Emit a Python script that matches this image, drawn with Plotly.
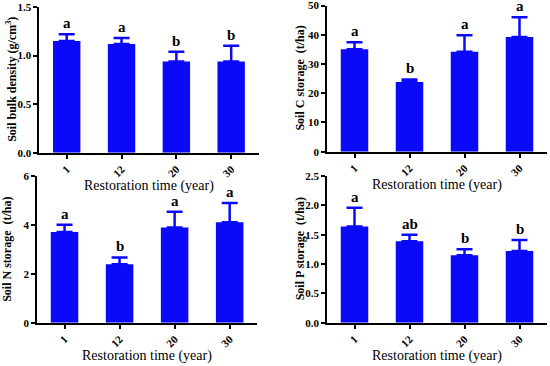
import plotly.graph_objects as go

categories = ["1", "12", "20", "30"]

bulk_density = [1.15, 1.12, 0.94, 0.94]
bulk_density_err = [0.07, 0.06, 0.10, 0.16]
bulk_density_letters = ["a", "a", "b", "b"]

c_storage = [35.0, 23.8, 34.2, 39.2]
c_storage_err = [2.4, 0.9, 5.6, 6.8]
c_storage_letters = ["a", "b", "a", "a"]

n_storage = [3.71, 2.39, 3.89, 4.11]
n_storage_err = [0.30, 0.28, 0.65, 0.79]
n_storage_letters = ["a", "b", "a", "a"]

p_storage = [1.64, 1.39, 1.15, 1.22]
p_storage_err = [0.32, 0.11, 0.10, 0.19]
p_storage_letters = ["a", "ab", "b", "b"]

W, H = 550, 366
BLUE = "#0A0AF8"
FONT = "Liberation Serif, Times New Roman, serif"

panels = [
    dict(vals=bulk_density, err=bulk_density_err, letters=bulk_density_letters,
         ytitle="Soil bulk density (g/cm<sup>3</sup>)", yrange=[0, 1.5], dtick=0.5, fmt=".1f",
         x=(39.3, 258.6), y=(7, 152.7), ytx=12),
    dict(vals=c_storage, err=c_storage_err, letters=c_storage_letters,
         ytitle="Soil C storage&nbsp;&nbsp;(t/ha)", yrange=[0, 50], dtick=10, fmt="d",
         x=(327, 547), y=(5.5, 151.7), ytx=300),
    dict(vals=n_storage, err=n_storage_err, letters=n_storage_letters,
         ytitle="Soil N storage&nbsp;&nbsp;(t/ha)", yrange=[0, 6], dtick=2, fmt="d",
         x=(37, 257.2), y=(176, 322.7), ytx=7.5),
    dict(vals=p_storage, err=p_storage_err, letters=p_storage_letters,
         ytitle="Soil P storage&nbsp;&nbsp;(t/ha)", yrange=[0, 2.5], dtick=0.5, fmt=".1f",
         x=(327, 547), y=(176, 322.7), ytx=300),
]

fig = go.Figure()
annotations = []
for i, p in enumerate(panels, start=1):
    xa = "x" if i == 1 else f"x{i}"
    ya = "y" if i == 1 else f"y{i}"
    fig.add_trace(go.Bar(
        x=categories, y=p["vals"], xaxis=xa, yaxis=ya,
        marker=dict(color=BLUE, line=dict(width=0)),
        error_y=dict(type="data", array=p["err"], arrayminus=[0] * 4, symmetric=False,
                     color=BLUE, thickness=2.5, width=8),
        showlegend=False,
    ))
    for k, (v, e, l) in enumerate(zip(p["vals"], p["err"], p["letters"])):
        annotations.append(dict(
            x=k, y=v + e, xref=xa, yref=ya, text=l, showarrow=False,
            yanchor="bottom", yshift=1,
            font=dict(family=FONT, size=15, color="black", weight="bold"),
        ))
    xdom = [p["x"][0] / W, p["x"][1] / W]
    ydom = [1 - p["y"][1] / H, 1 - p["y"][0] / H]
    annotations.append(dict(
        x=(xdom[0] + xdom[1]) / 2, y=1 - (p["y"][1] + 33) / H, xref="paper", yref="paper",
        text="Restoration time (year)", showarrow=False, xanchor="center", yanchor="middle",
        font=dict(family=FONT, size=14, color="black"),
    ))
    annotations.append(dict(
        x=p["ytx"] / W, y=(ydom[0] + ydom[1]) / 2, xref="paper", yref="paper",
        text=p["ytitle"], showarrow=False, textangle=-90, xanchor="center", yanchor="middle",
        font=dict(family=FONT, size=12, color="black", weight="bold"),
    ))
    axis_common = dict(showline=True, linecolor="black", linewidth=1.8, ticks="outside",
                       ticklen=4, tickwidth=1.5, tickcolor="black", showgrid=False,
                       zeroline=False, automargin=False, ticklabeloverflow="allow",
                       tickfont=dict(family=FONT, size=11, color="black", weight="bold"))
    xkey = "xaxis" if i == 1 else f"xaxis{i}"
    ykey = "yaxis" if i == 1 else f"yaxis{i}"
    fig.update_layout(**{
        xkey: dict(domain=xdom, anchor=ya, range=[-0.5, 3.5], tickangle=-45,
                   type="category", **axis_common),
        ykey: dict(domain=ydom, anchor=xa, range=p["yrange"], dtick=p["dtick"],
                   tickformat=p["fmt"], **axis_common),
    })

fig.update_layout(
    width=W, height=H, margin=dict(l=0, r=0, t=0, b=0),
    paper_bgcolor="white", plot_bgcolor="white",
    bargap=0.5, annotations=annotations,
)

fig.write_html("out.html", config={"displayModeBar": False},
               post_script="document.body.style.margin='0px';")
